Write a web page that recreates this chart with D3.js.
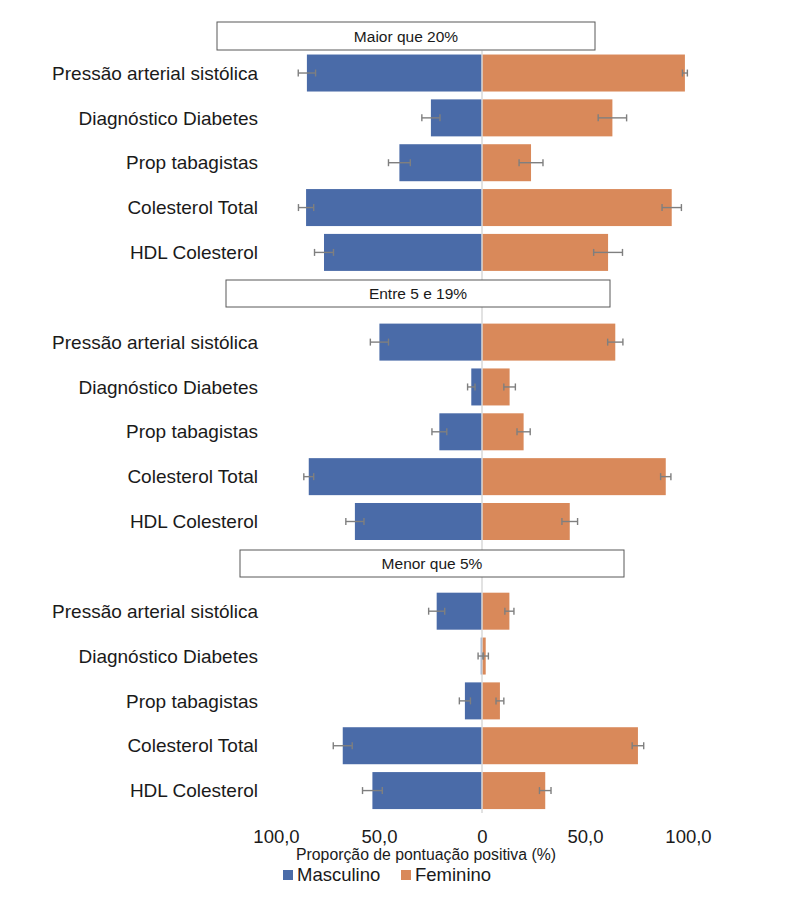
<!DOCTYPE html>
<html>
<head>
<meta charset="utf-8">
<script src="https://cdn.jsdelivr.net/npm/d3@7"></script>
<style>
  body { margin: 0; background: #fff; }
  text { font-family: "Liberation Sans", Arial, sans-serif; fill: #1a1a1a; }
</style>
</head>
<body>
<div id="chart"></div>
<script>
// data
const categories = ["Pressão arterial sistólica", "Diagnóstico Diabetes", "Prop tabagistas", "Colesterol Total", "HDL Colesterol"]
const panels = ["Maior que 20%", "Entre 5 e 19%", "Menor que 5%"]

const masculino = [
  [85.0, 24.8, 40.1, 85.4, 76.7],
  [49.8, 5.2, 20.7, 84.1, 61.7],
  [22.0, 0.6, 8.3, 67.6, 53.2]
]
const masculinoErr = [
  [4.2, 4.4, 5.3, 3.7, 4.6],
  [4.4, 1.8, 3.6, 2.4, 4.4],
  [3.9, 1.3, 2.7, 4.6, 4.8]
]
const feminino = [
  [98.5, 63.3, 23.8, 92.1, 61.2],
  [64.7, 13.4, 20.2, 89.2, 42.6],
  [13.3, 1.8, 8.7, 75.7, 30.7]
]
const femininoErr = [
  [1.2, 6.9, 5.8, 4.7, 7.0],
  [3.7, 2.8, 3.2, 2.5, 3.8],
  [2.2, 1.3, 1.9, 2.8, 2.8]
]
const xTicks = [-100, -50, 0, 50, 100]
const legendLabels = ["Masculino", "Feminino"]
const axisTitle = "Proporção de pontuação positiva (%)"

// layout of the header boxes (pixels)
const headerBoxes = [
  {x0: 217, x1: 595, y0: 22, y1: 50},
  {x0: 226, x1: 610, y0: 280, y1: 307},
  {x0: 240, x1: 624, y0: 550, y1: 577}
]

const blue = "#4a6ba8", orange = "#d9895a", errColor = "#7f7f7f"

let svg = d3.select("#chart").append("svg")
  .attr("width", 785)
  .attr("height", 910)

let x = d3.scaleLinear().domain([-100, 100]).range([276, 688])

// one slot per row, with an empty slot between panels
let slots = []
panels.forEach(function(p, pi) {
  if (pi > 0) slots.push("gap" + pi)
  categories.forEach(function(c, ci) { slots.push(pi + "-" + ci) })
})
let y = d3.scaleBand().domain(slots).range([50.6, 813]).paddingInner(0.175).paddingOuter(0.0875)

// flat table of rows
let rows = []
panels.forEach(function(p, pi) {
  categories.forEach(function(c, ci) {
    rows.push({key: pi + "-" + ci, cat: c, m: masculino[pi][ci], me: masculinoErr[pi][ci],
               f: feminino[pi][ci], fe: femininoErr[pi][ci]})
  })
})

// bars
svg.selectAll("rect.male")
  .data(rows)
  .enter()
  .append("rect")
  .attr("class", "male")
  .attr("x", d => x(-d.m))
  .attr("y", d => y(d.key))
  .attr("width", d => x(0) - x(-d.m))
  .attr("height", y.bandwidth())
  .style("fill", blue)

svg.selectAll("rect.female")
  .data(rows)
  .enter()
  .append("rect")
  .attr("class", "female")
  .attr("x", x(0))
  .attr("y", d => y(d.key))
  .attr("width", d => x(d.f) - x(0))
  .attr("height", y.bandwidth())
  .style("fill", orange)

// zero line
svg.append("line")
  .attr("x1", x(0)).attr("x2", x(0))
  .attr("y1", y.range()[0]).attr("y2", y.range()[1])
  .style("stroke", "#d9d9d9")
  .style("stroke-width", 1.5)

// error bars
function errorBars(cls, lo, hi) {
  let g = svg.selectAll("g." + cls)
    .data(rows)
    .enter()
    .append("g")
    .attr("class", cls)
    .style("stroke", errColor)
    .style("stroke-width", 1.4)
  let cy = d => y(d.key) + y.bandwidth() / 2
  g.append("line")
    .attr("x1", d => x(lo(d))).attr("x2", d => x(hi(d)))
    .attr("y1", cy).attr("y2", cy)
  g.append("line")
    .attr("x1", d => x(lo(d))).attr("x2", d => x(lo(d)))
    .attr("y1", d => cy(d) - 3.5).attr("y2", d => cy(d) + 3.5)
  g.append("line")
    .attr("x1", d => x(hi(d))).attr("x2", d => x(hi(d)))
    .attr("y1", d => cy(d) - 3.5).attr("y2", d => cy(d) + 3.5)
}
errorBars("errm", d => -d.m - d.me, d => -d.m + d.me)
errorBars("errf", d => d.f - d.fe, d => d.f + d.fe)

// category labels
svg.selectAll("text.cat")
  .data(rows)
  .enter()
  .append("text")
  .attr("class", "cat")
  .attr("x", 258)
  .attr("y", d => y(d.key) + y.bandwidth() / 2)
  .attr("dy", "0.35em")
  .attr("text-anchor", "end")
  .style("font-size", "19px")
  .text(d => d.cat)

// panel headers
let heads = svg.selectAll("g.head")
  .data(panels)
  .enter()
  .append("g")
  .attr("class", "head")
heads.append("rect")
  .attr("x", (d, i) => headerBoxes[i].x0)
  .attr("y", (d, i) => headerBoxes[i].y0)
  .attr("width", (d, i) => headerBoxes[i].x1 - headerBoxes[i].x0)
  .attr("height", (d, i) => headerBoxes[i].y1 - headerBoxes[i].y0)
  .style("fill", "#fff")
  .style("stroke", "#595959")
  .style("stroke-width", 1)
heads.append("text")
  .attr("x", (d, i) => (headerBoxes[i].x0 + headerBoxes[i].x1) / 2)
  .attr("y", (d, i) => (headerBoxes[i].y0 + headerBoxes[i].y1) / 2)
  .attr("dy", "0.36em")
  .attr("text-anchor", "middle")
  .style("font-size", "15.5px")
  .text(d => d)

// x axis (labels only)
let fmt = d => d === 0 ? "0" : Math.abs(d).toFixed(1).replace(".", ",")
let xAxis = svg.append("g")
  .attr("transform", "translate(0,813)")
  .call(d3.axisBottom(x).tickValues(xTicks).tickFormat(fmt).tickSize(0).tickPadding(17))
xAxis.select(".domain").remove()
xAxis.selectAll("text")
  .style("font-size", "18.5px")
  .style("font-family", "'Liberation Sans', Arial, sans-serif")
  .style("fill", "#1a1a1a")

svg.append("text")
  .attr("x", 426)
  .attr("y", 860)
  .attr("text-anchor", "middle")
  .style("font-size", "15.8px")
  .text(axisTitle)

// legend
let legend = svg.selectAll("g.legend")
  .data(legendLabels)
  .enter()
  .append("g")
  .attr("class", "legend")
  .attr("transform", (d, i) => "translate(" + (283 + i * 118) + ",870)")
legend.append("rect")
  .attr("width", 10).attr("height", 10)
  .style("fill", (d, i) => i === 0 ? blue : orange)
legend.append("text")
  .attr("x", 14)
  .attr("y", 11)
  .style("font-size", "18.5px")
  .text(d => d)
</script>
</body>
</html>
